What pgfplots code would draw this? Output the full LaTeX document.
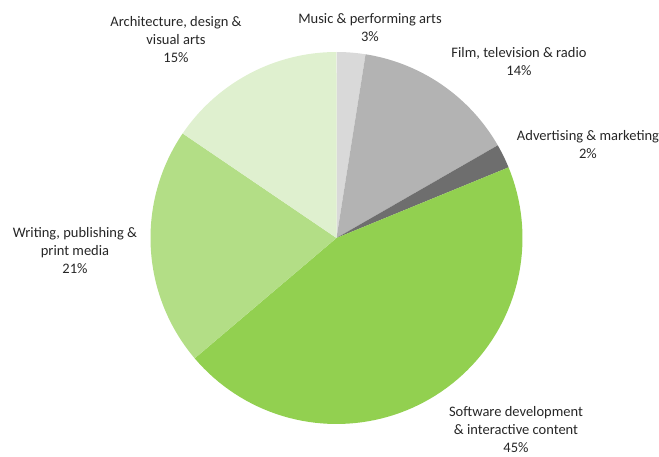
\documentclass[border=0pt]{standalone}
\usepackage{pgfplots}
\pgfplotsset{compat=1.18}
\usepackage{fontspec}
\setmainfont{Carlito}
\definecolor{cMusic}{HTML}{D9D9D9}
\definecolor{cFilm}{HTML}{B3B3B3}
\definecolor{cAdv}{HTML}{6E6E6E}
\definecolor{cSoft}{HTML}{92D050}
\definecolor{cWrit}{HTML}{B3DE86}
\definecolor{cArch}{HTML}{DFF0CF}
\definecolor{txt}{HTML}{262626}
\begin{document}
\begin{tikzpicture}
\begin{axis}[
  width=659pt, height=456pt, scale only axis,
  xmin=0, xmax=659, ymin=0, ymax=456,
  axis lines=none, clip=false,
  samples=80,
]
% cumulative shares (percent), clockwise from the top
% Music 2.5, Film 14.2, Advertising 2.1, Software 45.0, Writing 20.7, Architecture 15.5
\addplot[fill=cMusic, draw=none, domain=0:2.5]
  ({336.5+186*cos(90-3.6*x)}, {218+186*sin(90-3.6*x)}) -- (axis cs:336.5,218) -- cycle;
\addplot[fill=cFilm, draw=none, domain=2.5:16.7]
  ({336.5+186*cos(90-3.6*x)}, {218+186*sin(90-3.6*x)}) -- (axis cs:336.5,218) -- cycle;
\addplot[fill=cAdv, draw=none, domain=16.7:18.8]
  ({336.5+186*cos(90-3.6*x)}, {218+186*sin(90-3.6*x)}) -- (axis cs:336.5,218) -- cycle;
\addplot[fill=cSoft, draw=none, domain=18.8:63.8]
  ({336.5+186*cos(90-3.6*x)}, {218+186*sin(90-3.6*x)}) -- (axis cs:336.5,218) -- cycle;
\addplot[fill=cWrit, draw=none, domain=63.8:84.5]
  ({336.5+186*cos(90-3.6*x)}, {218+186*sin(90-3.6*x)}) -- (axis cs:336.5,218) -- cycle;
\addplot[fill=cArch, draw=none, domain=84.5:100]
  ({336.5+186*cos(90-3.6*x)}, {218+186*sin(90-3.6*x)}) -- (axis cs:336.5,218) -- cycle;

\begin{scope}[every node/.style={align=center, inner sep=0pt, text=txt,
   font=\fontsize{14.5}{18}\selectfont}]
\node at (axis cs:176,416) {Architecture, design \&\\visual arts\\15\%};
\node at (axis cs:370,428) {Music \& performing arts\\3\%};
\node at (axis cs:519,394) {Film, television \& radio\\14\%};
\node at (axis cs:588,311) {Advertising \& marketing\\2\%};
\node at (axis cs:75,205) {Writing, publishing \&\\print media\\21\%};
\node at (axis cs:516,26) {Software development\\\& interactive content\\45\%};
\end{scope}
\end{axis}
\pgfresetboundingbox
\useasboundingbox (0,0) rectangle (659pt,456pt);
\end{tikzpicture}
\end{document}
